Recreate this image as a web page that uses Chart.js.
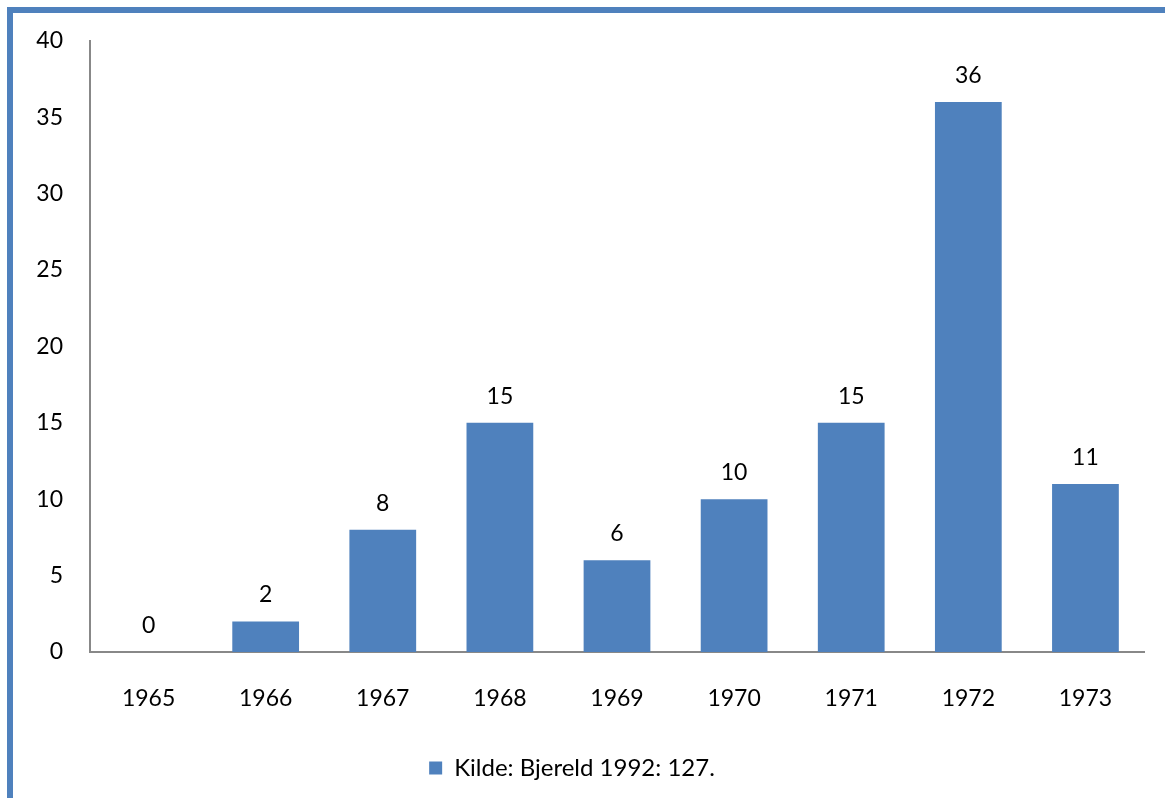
<!DOCTYPE html>
<html>
<head>
<meta charset="utf-8">
<script src="https://cdn.jsdelivr.net/npm/chart.js@4/dist/chart.umd.min.js"></script>
<style>
	html, body { margin: 0; padding: 0; background: #fff; }
	#wrap { position: relative; width: 1165px; height: 798px; overflow: hidden; }
	#frame {
		position: absolute; left: 7px; top: 7px; right: -10px; bottom: -10px;
		border-left: 6px solid #4F81BD; border-top: 6px solid #4F81BD;
	}
	#chart { position: absolute; left: 0; top: 0; }
</style>
</head>
<body>
<div id="wrap">
	<div id="frame"></div>
	<canvas id="chart" width="1165" height="798"></canvas>
</div>
<script>
'use strict';

// data
var years = ['1965', '1966', '1967', '1968', '1969', '1970', '1971', '1972', '1973'];
var counts = [0, 2, 8, 15, 6, 10, 15, 36, 11];
var seriesLabel = 'Kilde: Bjereld 1992: 127.';
var yTicks = [0, 5, 10, 15, 20, 25, 30, 35, 40];

var FONT = 'Lato, "DejaVu Sans", sans-serif';
var BLUE = '#4F81BD';

// draw the value above each bar
var barValues = {
	id : 'barValues',
	afterDatasetsDraw : function(chart){
		var ctx = chart.ctx,
			meta = chart.getDatasetMeta(0);
		ctx.save();
		ctx.font = '23px ' + FONT;
		ctx.fillStyle = '#000';
		ctx.textAlign = 'center';
		ctx.textBaseline = 'bottom';
		meta.data.forEach(function(bar, i){
			ctx.fillText(String(counts[i]), bar.x, bar.y - 15);
		});
		ctx.restore();
	}
};

Chart.defaults.font.family = FONT;
Chart.defaults.color = '#000';

new Chart(document.getElementById('chart').getContext('2d'), {
	type : 'bar',
	data : {
		labels : years,
		datasets : [{
			label : seriesLabel,
			data : counts,
			backgroundColor : BLUE,
			borderWidth : 0,
			barPercentage : 0.57,
			categoryPercentage : 1
		}]
	},
	options : {
		responsive : false,
		animation : false,
		layout : { padding : { top : 38, right : 21, left : 0, bottom : 8 } },
		plugins : {
			tooltip : { enabled : false },
			legend : {
				position : 'bottom',
				labels : {
					font : { size : 24 },
					boxWidth : 13,
					boxHeight : 13,
					padding : 10
				}
			}
		},
		scales : {
			x : {
				grid : { display : false, drawTicks : false },
				border : { display : true, color : '#888', width : 2 },
				ticks : { font : { size : 23 }, padding : 33 },
				afterFit : function(scale){ scale.height = 94; }
			},
			y : {
				min : 0,
				max : 40,
				afterBuildTicks : function(scale){
					scale.ticks = yTicks.map(function(v){ return { value : v }; });
				},
				grid : { display : false, drawTicks : false },
				border : { display : true, color : '#888', width : 2 },
				ticks : { font : { size : 23 }, padding : 27 },
				afterFit : function(scale){ scale.width = 90; }
			}
		}
	},
	plugins : [barValues]
});
</script>
</body>
</html>
